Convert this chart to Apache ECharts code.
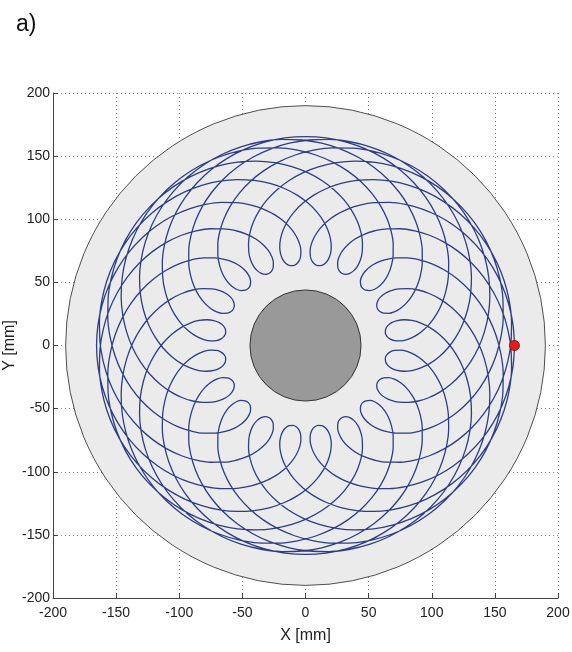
<!DOCTYPE html>
<html>
<head>
<meta charset="utf-8">
<script src="https://cdn.jsdelivr.net/npm/echarts@6/dist/echarts.min.js"></script>
<style>
  html, body { margin: 0; padding: 0; background: #ffffff; }
  #chart { width: 572px; height: 652px; }
</style>
</head>
<body>
<div id="chart"></div>
<script>
// ---- data (mm / degrees) ----
const tickValues = [-200, -150, -100, -50, 0, 50, 100, 150, 200];
const vessel = [[0, 0, 190]];      // outer vessel disk: centre x, centre y, radius
const hub = [[0, 0, 44]];          // central hub disk
const startPoint = [[165.5, 0]];   // red marker
// one period of the tool path, [radius mm, angle deg], outer point -> loop -> next outer point
const pathPeriod = [
  [165.5, 0], [165.2, 5.67], [164.3, 11.34], [162.8, 16.98], [160.72, 22.58], [158.06, 28.15],
  [154.85, 33.65], [151.11, 39.08], [146.86, 44.41], [142.13, 49.64], [136.96, 54.72], [131.39, 59.65],
  [125.47, 64.36], [119.26, 68.83], [112.82, 73.01], [106.24, 76.82], [99.6, 80.19], [93.02, 83.02],
  [86.64, 85.22], [80.64, 86.66], [75.21, 87.22], [70.59, 86.85], [67.03, 85.55], [64.77, 83.49],
  [64.0, 81.0], [64.77, 78.51], [67.03, 76.45], [70.59, 75.15], [75.21, 74.78], [80.64, 75.34],
  [86.64, 76.78], [93.02, 78.98], [99.6, 81.81], [106.24, 85.18], [112.82, 88.99], [119.26, 93.17],
  [125.47, 97.64], [131.39, 102.35], [136.96, 107.28], [142.13, 112.36], [146.86, 117.59], [151.11, 122.92],
  [154.85, 128.35], [158.06, 133.85], [160.72, 139.42], [162.8, 145.02], [164.3, 150.66], [165.2, 156.33]
];
const loopCount = 20;     // number of loops in the path
const periodTurn = 162;   // angle between successive periods (deg)

// ---- build path by repeating the period around the centre ----
const pathData = [];
for (let j = 0; j < loopCount; j++) {
  for (const p of pathPeriod) pathData.push([p[0], (p[1] + periodTurn * j) % 360]);
}
pathData.push([pathPeriod[0][0], pathPeriod[0][1]]);

const FONT = 'Liberation Sans, Arial, sans-serif';
const G = { left: 53, top: 93, width: 505, height: 505 };

function diskRenderer(fill, stroke) {
  return function (params, api) {
    const c = api.coord([api.value(0), api.value(1)]);
    const r = api.size([api.value(2), api.value(2)])[0];
    return { type: 'circle', shape: { cx: c[0], cy: c[1], r: r },
             style: { fill: fill, stroke: stroke, lineWidth: 1 } };
  };
}

const axisCommon = {
  type: 'value',
  min: tickValues[0],
  max: tickValues[tickValues.length - 1],
  interval: tickValues[1] - tickValues[0],
  axisLine: { show: true, onZero: false, lineStyle: { color: '#444', width: 1 } },
  axisTick: { show: true, inside: true, length: 5, lineStyle: { color: '#444' } },
  splitLine: { show: true, lineStyle: { color: '#8a8a8a', width: 1, type: [1, 3] } },
  nameLocation: 'middle',
  nameMoveOverlap: false,
  nameTextStyle: { fontFamily: FONT, fontSize: 16, color: '#222' }
};

const chart = echarts.init(document.getElementById('chart'), null, { renderer: 'canvas' });
chart.setOption({
  animation: false,
  backgroundColor: '#ffffff',
  title: { text: 'a)', left: 11, top: 8, textStyle: { fontFamily: FONT, fontSize: 23, fontWeight: 'normal', color: '#111' } },
  grid: Object.assign({ containLabel: false, outerBoundsMode: 'none' }, G),
  xAxis: Object.assign({}, axisCommon, {
    name: 'X [mm]', nameGap: 30,
    axisLabel: { fontFamily: FONT, fontSize: 14, color: '#222', margin: 8 }
  }),
  yAxis: Object.assign({}, axisCommon, {
    name: 'Y [mm]', nameGap: 35,
    axisLabel: { fontFamily: FONT, fontSize: 14, color: '#222', margin: 3 }
  }),
  polar: { center: [G.left + G.width / 2, G.top + G.height / 2], radius: G.width / 2 },
  radiusAxis: { type: 'value', min: 0, max: tickValues[tickValues.length - 1], show: false },
  angleAxis: { type: 'value', min: 0, max: 360, startAngle: 0, clockwise: false, show: false },
  series: [
    { type: 'custom', coordinateSystem: 'cartesian2d', z: 1, silent: true,
      data: vessel, renderItem: diskRenderer('#ebebeb', '#505050') },
    { type: 'custom', coordinateSystem: 'cartesian2d', z: 2, silent: true,
      data: hub, renderItem: diskRenderer('#999999', '#333333') },
    { type: 'line', coordinateSystem: 'polar', z: 3, data: pathData, showSymbol: false, symbol: 'none',
      smooth: 0.35, lineStyle: { color: '#2d3d87', width: 1.3 } },
    { type: 'scatter', coordinateSystem: 'cartesian2d', z: 4, data: startPoint, symbolSize: 10,
      itemStyle: { color: '#e01c1c', borderColor: '#9a1010', borderWidth: 1, opacity: 1 } }
  ]
});
</script>
</body>
</html>
